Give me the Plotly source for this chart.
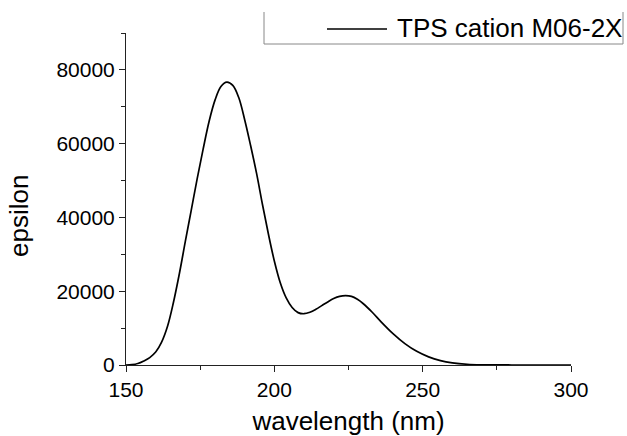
import plotly.graph_objects as go

# Data
wavelength = [150, 152, 154, 156, 158, 160, 162, 164, 166, 168, 170, 172, 174, 176,
              178, 180, 182, 184, 186, 188, 190, 192, 194, 196, 198, 200, 202, 204,
              206, 208, 210, 212, 214, 216, 218, 220, 222, 224, 226, 228, 230, 233,
              236, 240, 244, 248, 252, 256, 260, 265, 270, 280, 290, 300]
epsilon = [0, 80, 400, 1100, 2000, 3500, 6200, 10500, 17000, 24800, 33500, 42000,
           50500, 58500, 66000, 71800, 75500, 76700, 75800, 72500, 66500, 59500,
           52000, 43500, 35500, 28200, 22300, 18200, 15600, 14200, 13900, 14300,
           15100, 16100, 17100, 18000, 18600, 18800, 18600, 17800, 16600, 14300,
           11700, 8500, 5800, 3700, 2200, 1200, 600, 200, 60, 5, 0, 0]
series_name = "TPS cation M06-2X"
x_ticks = [150, 200, 250, 300]
y_ticks = [0, 20000, 40000, 60000, 80000]

FONT = "Arial, 'Liberation Sans', sans-serif"
W, H = 627, 436
L, R, T, B = 126, 56, 33, 71
pw, ph = W - L - R, H - T - B

def px_x(p):
    return (p - L) / pw

def px_y(p):
    return (H - B - p) / ph

fig = go.Figure()
fig.add_trace(go.Scatter(
    x=wavelength, y=epsilon, mode="lines", name=series_name,
    line=dict(color="black", width=1.7, shape="spline", smoothing=1.0),
    showlegend=False,
))

axis_common = dict(
    showline=True, linecolor="#222", linewidth=1, mirror=False,
    ticks="outside", ticklen=6, tickwidth=1, tickcolor="#222",
    showgrid=False, zeroline=False, automargin=False,
    tickfont=dict(family=FONT, size=21, color="black"),
)

fig.update_xaxes(
    range=[150, 300], tickvals=x_ticks,
    minor=dict(ticks="outside", ticklen=4, tickcolor="#222", dtick=25, tick0=150, showgrid=False),
    title=dict(text="wavelength (nm)", font=dict(family=FONT, size=26, color="black"), standoff=28),
    **axis_common,
)
fig.update_yaxes(
    range=[0, 90000], tickvals=y_ticks, tickformat="d",
    minor=dict(ticks="outside", ticklen=4, tickcolor="#222", dtick=10000, tick0=0, showgrid=False),
    **axis_common,
)

fig.add_annotation(
    text="epsilon", textangle=-90, xref="paper", yref="paper",
    x=px_x(19), y=px_y(216), xanchor="center", yanchor="middle", showarrow=False,
    font=dict(family=FONT, size=26, color="black"),
)

# legend: frame (left, bottom, right sides), line sample and label
fig.add_shape(
    type="path", xref="paper", yref="paper",
    path=f"M{px_x(264)},{px_y(12)} L{px_x(264)},{px_y(44)} L{px_x(623)},{px_y(44)} L{px_x(623)},{px_y(12)}",
    line=dict(color="#888", width=1),
)
fig.add_shape(
    type="line", xref="paper", yref="paper",
    x0=px_x(327), x1=px_x(387), y0=px_y(29), y1=px_y(29),
    line=dict(color="black", width=1.7),
)
fig.add_annotation(
    text=series_name, xref="paper", yref="paper",
    x=px_x(395), y=px_y(28), xanchor="left", yanchor="middle", showarrow=False,
    font=dict(family=FONT, size=26, color="black"),
)

fig.update_layout(
    width=W, height=H,
    margin=dict(l=L, r=R, t=T, b=B),
    paper_bgcolor="white", plot_bgcolor="white",
    showlegend=False,
)

fig.write_html("out.html")
